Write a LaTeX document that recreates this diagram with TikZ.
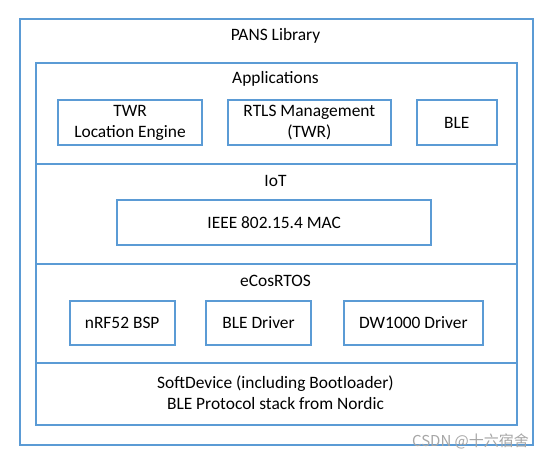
\documentclass[tikz,border=0pt]{standalone}
\usepackage{fontspec}
\setmainfont{Carlito}
\newfontfamily\cjk{Noto Sans CJK SC}
\definecolor{acc}{HTML}{5B9BD5}
\begin{document}
\begin{tikzpicture}[x=1pt,y=-1pt,
  every node/.style={font=\fontsize{17.4}{21}\selectfont, text=black, inner sep=0pt},
  frame/.style={draw=acc, line width=2pt, fill=none, anchor=north west},
  box/.style={draw=acc, line width=2pt, fill=white, align=center, anchor=north west},
  lbl/.style={align=center}]
\useasboundingbox (0,0) rectangle (555,459);
\fill[white] (0,0) rectangle (555,459);
% outer frame
\node[frame, minimum width=513pt, minimum height=426pt] (outer) at (19,18) {};
\node[lbl] (pans) at (275.5,35.5) {PANS Library};
% layers
\node[frame, minimum width=481pt, minimum height=100.7pt] (apps) at (35,62) {};
\node[frame, minimum width=481pt, minimum height=100pt] (iot) at (35,162.7) {};
\node[frame, minimum width=481pt, minimum height=99.6pt] (rtos) at (35,262.7) {};
\node[frame, minimum width=481pt, minimum height=61.7pt] (sd) at (35,362.3) {};
% layer labels
\node[lbl] (appslbl) at (275.5,79) {Applications};
\node[lbl] (iotlbl) at (275.5,180.5) {IoT};
\node[lbl] (rtoslbl) at (275.5,280.5) {eCosRTOS};
\node[lbl] (sdlbl) at (275.5,393) {SoftDevice (including Bootloader)\\BLE Protocol stack from Nordic};
% application boxes
\node[box, minimum width=144.6pt, minimum height=44.7pt] (twr) at (56.7,99.3) {TWR\\Location Engine};
\node[box, minimum width=163.3pt, minimum height=44.7pt] (rtls) at (226.7,99.3) {RTLS Management\\(TWR)};
\node[box, minimum width=80.3pt, minimum height=44.7pt] (ble) at (415.7,99.3) {BLE};
% IoT box
\node[box, minimum width=314.3pt, minimum height=45pt] (mac) at (116,199) {IEEE 802.15.4 MAC};
% RTOS boxes
\node[box, minimum width=105pt, minimum height=44.6pt] (bsp) at (68.7,299.7) {nRF52 BSP};
\node[box, minimum width=105.6pt, minimum height=44.6pt] (bled) at (204.7,299.7) {BLE Driver};
\node[box, minimum width=139.3pt, minimum height=44.6pt] (dw) at (342.7,299.7) {DW1000 Driver};
% watermark
\node[font=\cjk\fontsize{15}{17}\selectfont, text=black!35] (wm) at (470.5,441.5) {CSDN @十六宿舍};
\end{tikzpicture}
\end{document}
